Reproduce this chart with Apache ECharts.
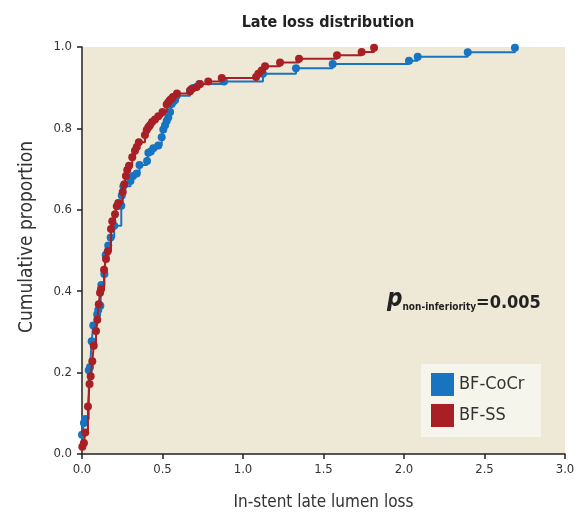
<!DOCTYPE html>
<html>
<head>
<meta charset="utf-8">
<script src="https://cdn.jsdelivr.net/npm/echarts@6/dist/echarts.min.js"></script>
<style>html,body{margin:0;padding:0;background:#fff;}#c{width:584px;height:516px;}</style>
</head>
<body>
<div id="c"></div>
<script>
var FONT = '"DejaVu Sans Condensed","Liberation Sans Narrow","Liberation Sans",sans-serif';
var xTicks = [0, 0.5, 1.0, 1.5, 2.0, 2.5, 3.0];
var yTicks = [0, 0.2, 0.4, 0.6, 0.8, 1.0];

var cocrLoss = [0.000,0.012,0.020,0.042,0.050,0.060,0.070,0.094,0.101,0.114,0.120,0.139,0.147,0.163,0.178,0.200,0.244,0.247,0.257,0.301,0.317,0.340,0.357,0.404,0.412,0.427,0.443,0.474,0.495,0.505,0.516,0.526,0.536,0.547,0.557,0.567,0.578,0.588,0.671,0.691,0.729,0.882,1.124,1.329,1.557,2.031,2.085,2.396,2.689];
var cocrProp = [0.047,0.076,0.086,0.206,0.214,0.277,0.316,0.343,0.354,0.364,0.415,0.442,0.489,0.512,0.532,0.561,0.610,0.635,0.658,0.671,0.683,0.689,0.710,0.720,0.740,0.743,0.751,0.758,0.778,0.797,0.808,0.818,0.827,0.840,0.860,0.866,0.870,0.880,0.893,0.899,0.909,0.915,0.934,0.948,0.958,0.966,0.976,0.987,0.998];

var ssLoss = [0.002,0.012,0.020,0.037,0.047,0.054,0.064,0.073,0.087,0.095,0.104,0.112,0.118,0.137,0.149,0.160,0.180,0.188,0.205,0.216,0.225,0.253,0.263,0.273,0.281,0.292,0.312,0.329,0.340,0.353,0.391,0.402,0.412,0.422,0.435,0.453,0.474,0.500,0.526,0.536,0.547,0.557,0.565,0.590,0.671,0.681,0.712,0.733,0.784,0.868,1.081,1.095,1.116,1.137,1.230,1.348,1.584,1.737,1.814];
var ssProp = [0.018,0.027,0.053,0.117,0.172,0.191,0.228,0.266,0.302,0.330,0.368,0.396,0.405,0.453,0.479,0.498,0.553,0.572,0.589,0.609,0.617,0.644,0.663,0.683,0.698,0.708,0.729,0.745,0.754,0.766,0.784,0.796,0.803,0.808,0.816,0.822,0.830,0.840,0.859,0.864,0.870,0.873,0.877,0.886,0.891,0.897,0.902,0.909,0.915,0.924,0.926,0.934,0.942,0.953,0.962,0.971,0.980,0.988,0.998];

function pairs(xs, ys){ return xs.map(function(x,i){ return [x, ys[i]]; }); }

var BLUE = '#1874C0', RED = '#A81F25';
var chart = echarts.init(document.getElementById('c'), null, {renderer:'canvas'});
chart.setOption({
  animation: false,
  backgroundColor: '#fff',
  title: {
    text: 'Late loss distribution', left: 323, top: 10, textAlign: 'center',
    textStyle: {fontFamily: FONT, fontSize: 16, fontWeight: 'bold', color: '#222'}
  },
  grid: {left: 82, right: 19, top: 47, bottom: 61, show: true, backgroundColor: '#EDE9D6', borderWidth: 0},
  xAxis: {
    type: 'value', min: 0, max: 3, interval: 0.5,
    name: 'In-stent late lumen loss', nameLocation: 'middle', nameGap: 40,
    nameTextStyle: {fontFamily: FONT, fontSize: 17, color: '#333'},
    axisLine: {show: true, lineStyle: {color: '#222', width: 1.5}},
    axisTick: {show: true, length: 5, lineStyle: {color: '#222', width: 1.5}},
    axisLabel: {fontFamily: FONT, fontSize: 13, color: '#333', margin: 9, formatter: function(v){return v.toFixed(1);}},
    splitLine: {show: false}
  },
  yAxis: {
    type: 'value', min: 0, max: 1, interval: 0.2,
    axisLine: {show: true, lineStyle: {color: '#222', width: 1.5}},
    axisTick: {show: true, length: 5, lineStyle: {color: '#222', width: 1.5}},
    axisLabel: {fontFamily: FONT, fontSize: 13, color: '#333', margin: 10, formatter: function(v){return v.toFixed(1);}},
    splitLine: {show: false}
  },
  legend: {
    orient: 'vertical', left: 427, top: 369, itemWidth: 23, itemHeight: 23, itemGap: 8,
    icon: 'rect', padding: 4,
    textStyle: {fontFamily: FONT, fontSize: 18, color: '#333', padding: [0,0,0,0]},
    data: ['BF-CoCr', 'BF-SS'], selectedMode: false
  },
  graphic: [
    {type: 'rect', z: 3, shape: {x: 421, y: 364, width: 120, height: 73}, style: {fill: '#F6F5EC'}},
    {type: 'text', z: 5, x: 27, y: 237, rotation: Math.PI / 2, style: {
      text: 'Cumulative proportion', fontFamily: FONT, fontSize: 19, fill: '#333', align: 'center', verticalAlign: 'middle'
    }},
    {type: 'text', z: 5, left: 387, top: 288, style: {
      rich: {
        p: {fontFamily: FONT, fontSize: 24, fontWeight: 'bold', fontStyle: 'italic', fill: '#222', verticalAlign: 'bottom'},
        s: {fontFamily: FONT, fontSize: 10, fontWeight: 'bold', fill: '#222', padding: [12,0,0,0], verticalAlign: 'bottom'},
        e: {fontFamily: FONT, fontSize: 18, fontWeight: 'bold', fill: '#222', verticalAlign: 'bottom'}
      },
      text: '{p|p}{s|non-inferiority}{e|=0.005}'
    }}
  ],
  series: [
    {name: 'BF-CoCr', type: 'line', step: 'end', data: pairs(cocrLoss, cocrProp), color: BLUE,
     symbol: 'circle', symbolSize: 8, showAllSymbol: true, lineStyle: {width: 2, color: BLUE}, itemStyle: {color: BLUE}, emphasis: {disabled: true}, z: 2},
    {name: 'BF-SS', type: 'line', step: 'end', data: pairs(ssLoss, ssProp), color: RED,
     symbol: 'circle', symbolSize: 8, showAllSymbol: true, lineStyle: {width: 2, color: RED}, itemStyle: {color: RED}, emphasis: {disabled: true}, z: 3}
  ]
});
</script>
</body>
</html>
